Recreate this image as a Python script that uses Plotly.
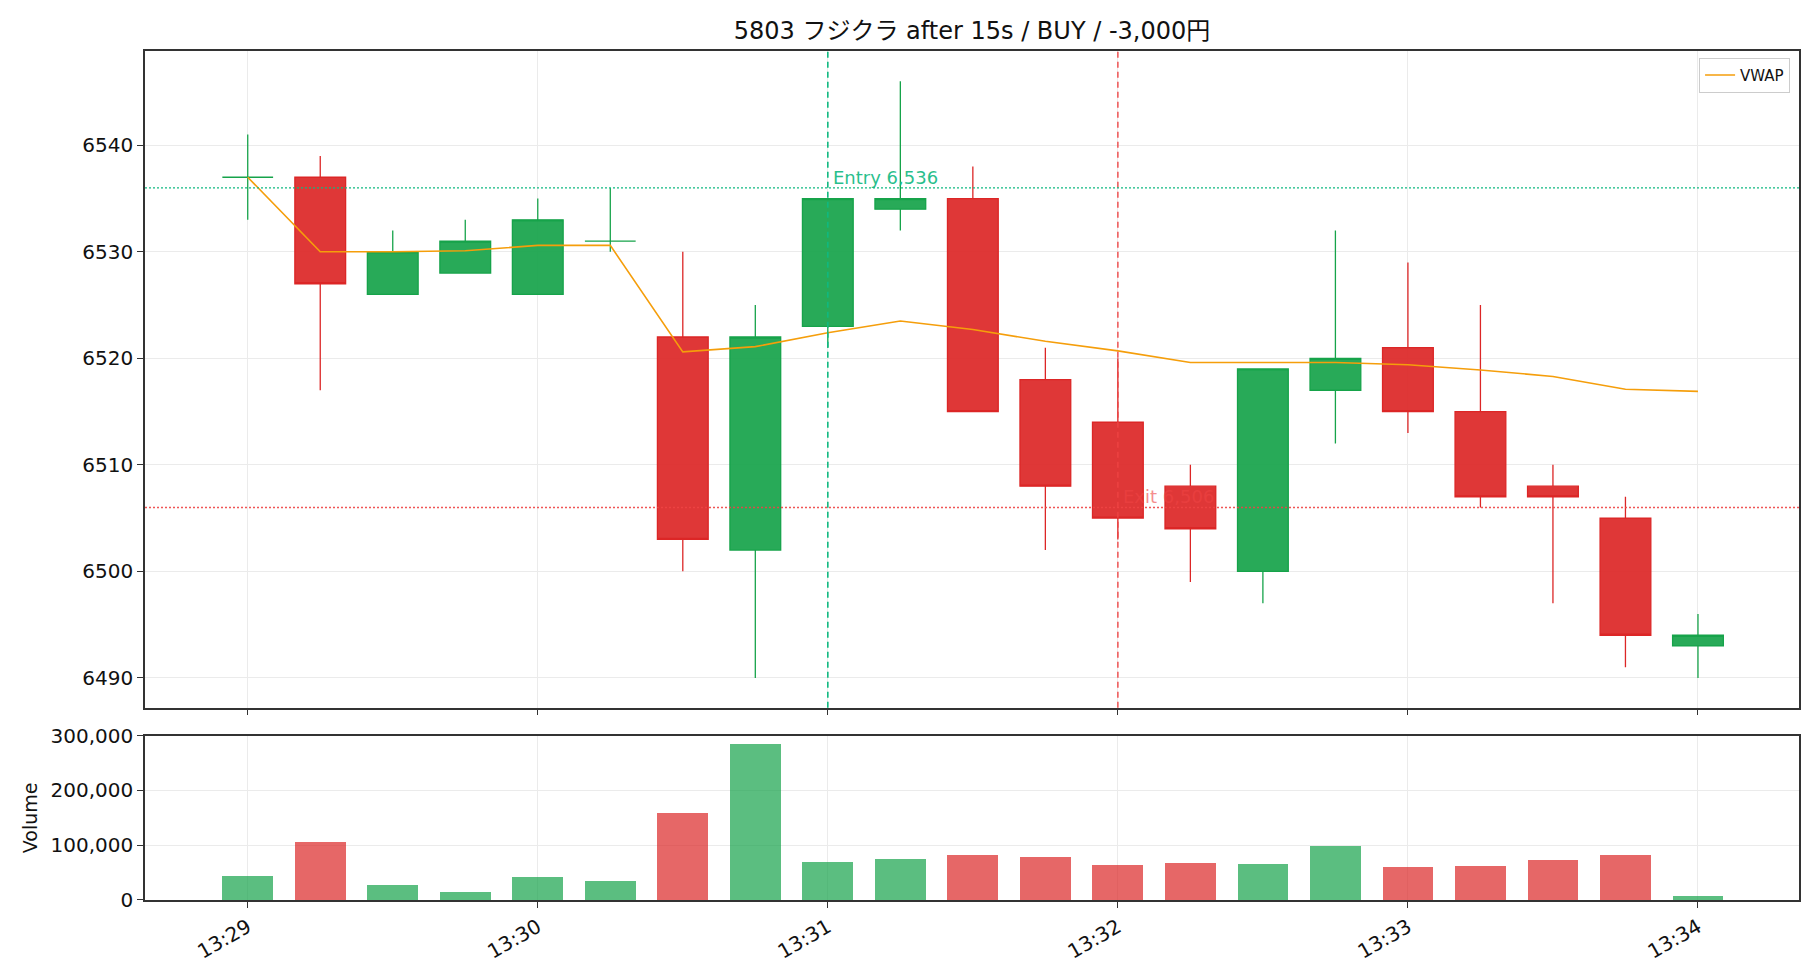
import plotly.graph_objects as go

# ---------------- data ----------------
date = "2025-01-01"
times = ["13:29:00", "13:29:15", "13:29:30", "13:29:45", "13:30:00", "13:30:15", "13:30:30",
         "13:30:45", "13:31:00", "13:31:15", "13:31:30", "13:31:45", "13:32:00", "13:32:15",
         "13:32:30", "13:32:45", "13:33:00", "13:33:15", "13:33:30", "13:33:45", "13:34:00"]
opens = [6537, 6537, 6526, 6528, 6526, 6531, 6522, 6502, 6523, 6534, 6535,
         6518, 6514, 6508, 6500, 6517, 6521, 6515, 6508, 6505, 6493]
highs = [6541, 6539, 6532, 6533, 6535, 6536, 6530, 6525, 6535, 6546, 6538,
         6521, 6520, 6510, 6519, 6532, 6529, 6525, 6510, 6507, 6496]
lows = [6533, 6517, 6526, 6528, 6526, 6530, 6500, 6490, 6521, 6532, 6515,
        6502, 6503, 6499, 6497, 6512, 6513, 6506, 6497, 6491, 6490]
closes = [6537, 6527, 6530, 6531, 6533, 6531, 6503, 6522, 6535, 6535, 6515,
          6508, 6505, 6504, 6519, 6520, 6515, 6507, 6507, 6494, 6494]
volumes = [45100, 105600, 28700, 15900, 43300, 36000, 158600, 285000, 70800, 76300, 81800,
           79900, 65300, 68900, 67100, 100000, 61600, 63500, 74400, 81800, 8500]
vwap = [6537.0, 6530.0, 6530.0, 6530.1, 6530.6, 6530.6, 6520.6, 6521.1, 6522.4, 6523.5, 6522.7,
        6521.6, 6520.7, 6519.6, 6519.6, 6519.6, 6519.4, 6518.9, 6518.3, 6517.1, 6516.9]

entry_time, entry_price = "13:31:00", 6536
exit_time, exit_price = "13:32:00", 6506
title = "5803 フジクラ after 15s / BUY / -3,000円"
minute_ticks = ["13:29", "13:30", "13:31", "13:32", "13:33", "13:34"]
price_ticks = [6490, 6500, 6510, 6520, 6530, 6540]
volume_ticks = [0, 100000, 200000, 300000]

# ---------------- styles ----------------
GREEN = "#16a34a"
RED = "#dc2626"
GREEN_BODY = "rgba(22,163,74,0.92)"
RED_BODY = "rgba(220,38,38,0.92)"
GREEN_VOL = "rgba(22,163,74,0.70)"
RED_VOL = "rgba(220,38,38,0.70)"
VWAP_C = "#f59e0b"
ENTRY_C = "#10b981"
EXIT_C = "#ef4444"
FONT = "DejaVu Sans, Noto Sans CJK JP, sans-serif"
AXIS_C = "#333333"
GRID_C = "#ebebeb"
TXT = "#111111"

ts = [f"{date} {t}" for t in times]
up = [c >= o for o, c in zip(opens, closes)]


def pick(arr, flag):
    return [a for a, u in zip(arr, up) if u == flag]


fig = go.Figure()

for flag, line_c, fill_c, name in [(True, GREEN, GREEN_BODY, "up"), (False, RED, RED_BODY, "down")]:
    fig.add_trace(go.Candlestick(
        x=pick(ts, flag), open=pick(opens, flag), high=pick(highs, flag),
        low=pick(lows, flag), close=pick(closes, flag),
        increasing=dict(line=dict(color=line_c, width=1.3), fillcolor=fill_c),
        decreasing=dict(line=dict(color=line_c, width=1.3), fillcolor=fill_c),
        whiskerwidth=0, showlegend=False, name=name,
        xaxis="x", yaxis="y",
    ))

fig.add_trace(go.Scatter(
    x=ts, y=vwap, mode="lines", name="VWAP",
    line=dict(color=VWAP_C, width=1.6), xaxis="x", yaxis="y",
))

fig.add_trace(go.Bar(
    x=ts, y=volumes, width=10500,
    marker=dict(color=[GREEN_VOL if u else RED_VOL for u in up], line=dict(width=0)),
    showlegend=False, xaxis="x2", yaxis="y2",
))

# entry / exit markers
fig.add_shape(type="line", xref="x", yref="y domain", x0=f"{date} {entry_time}", x1=f"{date} {entry_time}",
              y0=0, y1=1, line=dict(color=ENTRY_C, width=1.6, dash="6px,4px"))
fig.add_shape(type="line", xref="x", yref="y domain", x0=f"{date} {exit_time}", x1=f"{date} {exit_time}",
              y0=0, y1=1, line=dict(color=EXIT_C, width=1.6, dash="6px,4px"), opacity=0.85)
fig.add_shape(type="line", xref="x domain", yref="y", x0=0, x1=1, y0=entry_price, y1=entry_price,
              line=dict(color=ENTRY_C, width=1.4, dash="2px,2px"))
fig.add_shape(type="line", xref="x domain", yref="y", x0=0, x1=1, y0=exit_price, y1=exit_price,
              line=dict(color=EXIT_C, width=1.4, dash="2px,2px"), opacity=0.9)

fig.add_annotation(x=f"{date} {entry_time}", y=entry_price, xref="x", yref="y",
                   text=f"Entry {entry_price:,}", showarrow=False, xanchor="left", yanchor="bottom",
                   xshift=3, yshift=-2, font=dict(family=FONT, size=18, color=ENTRY_C), opacity=0.9)
fig.add_annotation(x=f"{date} {exit_time}", y=exit_price, xref="x", yref="y",
                   text=f"Exit {exit_price:,}", showarrow=False, xanchor="left", yanchor="bottom",
                   xshift=3, yshift=-2, font=dict(family=FONT, size=18, color=EXIT_C), opacity=0.6)

xrange = [f"{date} 13:28:38.75", f"{date} 13:34:20.9"]
tickvals = [f"{date} {m}:00" for m in minute_ticks]

common_x = dict(
    type="date", range=xrange, tickvals=tickvals, ticktext=minute_ticks,
    showgrid=True, gridcolor=GRID_C, gridwidth=1,
    showline=True, linecolor=AXIS_C, linewidth=1.5, mirror=True,
    ticks="outside", ticklen=6, tickwidth=1.3, tickcolor=AXIS_C, zeroline=False,
)
common_y = dict(
    showgrid=True, gridcolor=GRID_C, gridwidth=1,
    showline=True, linecolor=AXIS_C, linewidth=1.5, mirror=True,
    ticks="outside", ticklen=6, tickwidth=1.3, tickcolor=AXIS_C, zeroline=False,
    tickfont=dict(family=FONT, size=20, color=TXT),
)

fig.update_layout(
    width=1820, height=980,
    paper_bgcolor="white", plot_bgcolor="white",
    margin=dict(l=145, r=21, t=51, b=80),
    font=dict(family=FONT, size=20, color=TXT),
    title=dict(text=title, x=0.5, xref="paper", xanchor="center", y=1 - 31 / 980, yanchor="middle",
               font=dict(family=FONT, size=24, color=TXT)),
    boxgap=0.3, boxgroupgap=0.0,
    bargap=0,
    xaxis=dict(**common_x, domain=[0, 1], anchor="y", showticklabels=False,
               rangeslider=dict(visible=False), matches="x2"),
    yaxis=dict(**common_y, domain=[0.2265, 1], anchor="x", range=[6487.2, 6548.85],
               tickvals=price_ticks),
    xaxis2=dict(**common_x, domain=[0, 1], anchor="y2", tickangle=-30,
                tickfont=dict(family=FONT, size=20, color=TXT)),
    yaxis2=dict(**common_y, domain=[0, 0.1935], anchor="x2", range=[0, 300000],
                tickvals=volume_ticks, tickformat=",",
                title=dict(text="Volume", font=dict(family=FONT, size=19, color=TXT), standoff=8)),
    legend=dict(x=0.9946, y=0.992, xanchor="right", yanchor="top",
                bgcolor="rgba(255,255,255,0.8)", bordercolor="#cccccc", borderwidth=1,
                font=dict(family=FONT, size=15, color=TXT)),
    showlegend=True,
)

fig.write_html("out.html")
